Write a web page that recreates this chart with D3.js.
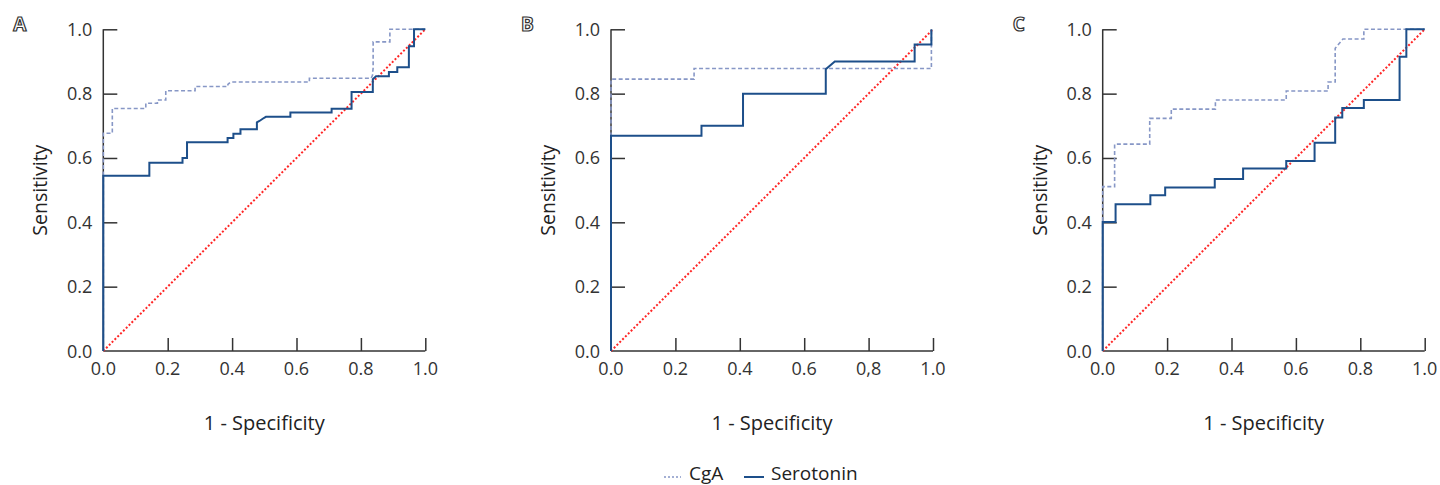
<!DOCTYPE html>
<html><head><meta charset="utf-8">
<script src="https://cdn.jsdelivr.net/npm/d3@7"></script>
<style>
html,body{margin:0;padding:0;background:#fff;}
svg{display:block;font-family:"Open Sans","Noto Sans",sans-serif;}
</style></head>
<body><svg id="chart" width="1440" height="485"></svg>
<script>
// ---- data (ROC curve coordinates: 1 - specificity, sensitivity) ----
const panelNames = ["A", "B", "C"];
const xTickLabelsA = ["0.0", "0.2", "0.4", "0.6", "0.8", "1.0"];
const xTickLabelsB = ["0.0", "0.2", "0.4", "0.6", "0,8", "1.0"];
const xTickLabelsC = ["0.0", "0.2", "0.4", "0.6", "0.8", "1.0"];
const yTickLabels = ["0.0", "0.2", "0.4", "0.6", "0.8", "1.0"];
const tickValues = [0, 0.2, 0.4, 0.6, 0.8, 1.0];
const seriesNames = ["CgA", "Serotonin"];

const serotoninA_fpr = [0,0,0.143,0.143,0.246,0.246,0.260,0.260,0.386,0.386,0.404,0.404,0.426,0.426,0.477,0.477,0.485,0.495,0.505,0.581,0.581,0.709,0.709,0.771,0.771,0.837,0.837,0.847,0.887,0.887,0.913,0.913,0.949,0.949,0.965,0.965,1.0];
const serotoninA_tpr = [0,0.545,0.545,0.585,0.585,0.600,0.600,0.649,0.649,0.662,0.662,0.675,0.675,0.689,0.689,0.711,0.715,0.722,0.728,0.728,0.741,0.741,0.753,0.753,0.805,0.805,0.845,0.854,0.854,0.867,0.867,0.882,0.882,0.947,0.947,1.0,1.0];
const cgaA_fpr = [0,0,0.028,0.028,0.132,0.132,0.168,0.168,0.194,0.194,0.285,0.285,0.387,0.387,0.395,0.640,0.640,0.832,0.836,0.838,0.838,0.890,0.890,1.0];
const cgaA_tpr = [0,0.677,0.677,0.754,0.754,0.770,0.770,0.780,0.780,0.809,0.809,0.822,0.822,0.829,0.836,0.836,0.848,0.848,0.857,0.880,0.961,0.961,1.0,1.0];

const serotoninB_fpr = [0,0,0.281,0.281,0.410,0.410,0.667,0.667,0.695,0.943,0.943,0.995,0.995];
const serotoninB_tpr = [0,0.669,0.669,0.700,0.700,0.800,0.800,0.876,0.900,0.900,0.953,0.953,1.0];
const cgaB_fpr = [0,0,0.258,0.258,0.995,0.995];
const cgaB_tpr = [0,0.845,0.845,0.878,0.878,1.0];

const serotoninC_fpr = [0,0,0.040,0.040,0.148,0.148,0.194,0.194,0.348,0.348,0.436,0.436,0.570,0.570,0.658,0.658,0.722,0.722,0.744,0.744,0.811,0.811,0.922,0.922,0.943,0.943,1.0];
const serotoninC_tpr = [0,0.401,0.401,0.456,0.456,0.484,0.484,0.508,0.508,0.535,0.535,0.567,0.567,0.591,0.591,0.647,0.647,0.726,0.726,0.755,0.755,0.780,0.780,0.915,0.915,1.0,1.0];
const cgaC_fpr = [0,0,0.037,0.037,0.146,0.146,0.213,0.213,0.350,0.350,0.570,0.570,0.700,0.700,0.722,0.722,0.746,0.811,0.811,1.0];
const cgaC_tpr = [0,0.511,0.511,0.643,0.643,0.723,0.723,0.752,0.752,0.780,0.780,0.808,0.808,0.836,0.836,0.941,0.970,0.970,1.0,1.0];

const referenceLine = [0, 1];

// ---- layout ----
const panels = [
  {name: panelNames[0], x0: 103.3, xTicks: xTickLabelsA, cga: [cgaA_fpr, cgaA_tpr], sero: [serotoninA_fpr, serotoninA_tpr]},
  {name: panelNames[1], x0: 611,   xTicks: xTickLabelsB, cga: [cgaB_fpr, cgaB_tpr], sero: [serotoninB_fpr, serotoninB_tpr]},
  {name: panelNames[2], x0: 1102.7,xTicks: xTickLabelsC, cga: [cgaC_fpr, cgaC_tpr], sero: [serotoninC_fpr, serotoninC_tpr]}
];
const plotW = 322, yTop = 29.3, yBot = 351;
const colSero = "#1d4f8a", colCga = "#8797c6", colRef = "#ff2626", axisCol = "#333";

const svg = d3.select("#chart");

panels.forEach(p => {
  const g = svg.append("g");
  const x = d3.scaleLinear().domain([0, 1]).range([p.x0, p.x0 + plotW]);
  const y = d3.scaleLinear().domain([0, 1]).range([yBot, yTop]);

  // panel label
  g.append("text").attr("x", p.x0 - 90).attr("y", 31)
    .attr("font-size", 19).attr("font-weight", "bold")
    .attr("fill", "#fff").attr("stroke", "#333").attr("stroke-width", 1.2)
    .text(p.name);

  // axes
  const yAxis = d3.axisRight(y).tickValues(tickValues).tickSize(14).tickFormat("");
  const gy = g.append("g").attr("transform", `translate(${x(0)},0)`).call(yAxis);
  gy.select(".domain").attr("d", `M0,${y(0)}V${y(1)}`).attr("stroke", axisCol).attr("stroke-width", 1.5);
  gy.selectAll(".tick line").attr("stroke", axisCol).attr("stroke-width", 1.5);
  gy.selectAll(".tick").filter(d => d === 0).remove();

  const xAxis = d3.axisTop(x).tickValues(tickValues).tickSize(13).tickFormat("");
  const gx = g.append("g").attr("transform", `translate(0,${y(0)})`).call(xAxis);
  gx.select(".domain").attr("d", `M${x(0)},0H${x(1)}`).attr("stroke", axisCol).attr("stroke-width", 1.5);
  gx.selectAll(".tick line").attr("stroke", axisCol).attr("stroke-width", 1.5);
  gx.selectAll(".tick").filter(d => d === 0).remove();

  // tick labels
  g.selectAll(".ylab").data(tickValues).enter().append("text")
    .attr("x", x(0) - 11).attr("y", d => y(d) + 6.5)
    .attr("text-anchor", "end").attr("font-size", 18).attr("fill", axisCol)
    .text((d, i) => yTickLabels[i]);
  g.selectAll(".xlab").data(tickValues).enter().append("text")
    .attr("x", d => x(d)).attr("y", y(0) + 23.5)
    .attr("text-anchor", "middle").attr("font-size", 18).attr("fill", axisCol)
    .text((d, i) => p.xTicks[i]);

  // axis titles
  g.append("text").attr("transform", `translate(${x(0) - 56},${(yTop + yBot) / 2}) rotate(-90)`)
    .attr("text-anchor", "middle").attr("font-size", 19.5).attr("fill", "#222").text("Sensitivity");
  g.append("text").attr("x", (x(0) + x(1)) / 2).attr("y", 430)
    .attr("text-anchor", "middle").attr("font-size", 20).attr("fill", "#222").text("1 - Specificity");

  const line = d3.line().x(d => x(d[0])).y(d => y(d[1]));

  // reference diagonal
  g.append("path").datum(referenceLine.map(v => [v, v]))
    .attr("d", line).attr("fill", "none").attr("stroke", colRef)
    .attr("stroke-width", 2).attr("stroke-dasharray", "2,2");

  // CgA
  g.append("path").datum(p.cga[0].map((v, i) => [v, p.cga[1][i]]))
    .attr("d", line).attr("fill", "none").attr("stroke", colCga)
    .attr("stroke-width", 1.6).attr("stroke-dasharray", "4,2.5");

  // Serotonin
  g.append("path").datum(p.sero[0].map((v, i) => [v, p.sero[1][i]]))
    .attr("d", line).attr("fill", "none").attr("stroke", colSero)
    .attr("stroke-width", 2);
});

// legend
const lg = svg.append("g");
lg.append("line").attr("x1", 664).attr("x2", 681).attr("y1", 477).attr("y2", 477)
  .attr("stroke", colCga).attr("stroke-width", 1.6).attr("stroke-dasharray", "2,2");
lg.append("text").attr("x", 689).attr("y", 480).attr("font-size", 19).attr("fill", "#222").text(seriesNames[0]);
lg.append("line").attr("x1", 744).attr("x2", 764).attr("y1", 477).attr("y2", 477)
  .attr("stroke", colSero).attr("stroke-width", 2);
lg.append("text").attr("x", 771).attr("y", 480).attr("font-size", 19).attr("fill", "#222").text(seriesNames[1]);
</script></body></html>
